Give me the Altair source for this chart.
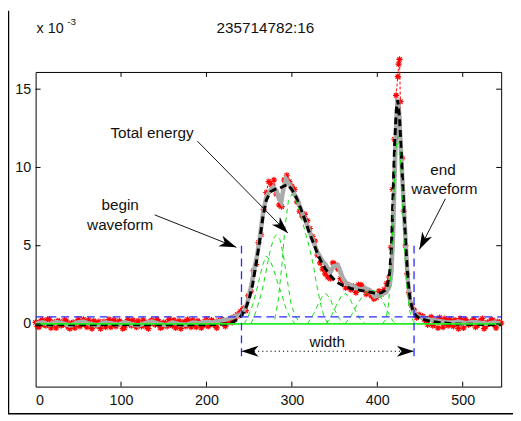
import math
import altair as alt
import pandas as pd

# ---------------- data (units of 1e-3) ----------------
base_x = list(range(0, 240, 4))
base_red = [0.10, -0.20, 0.25, -0.10, 0.30, 0.00, -0.25, 0.15, -0.05, 0.20,
            -0.30, 0.10, 0.05, -0.15, 0.30, -0.20, 0.00, 0.20, -0.10, -0.30,
            0.15, 0.05, -0.20, 0.25, -0.05, 0.10, -0.25, 0.30, -0.10, 0.00,
            0.20, -0.15, 0.10, -0.30, 0.25, -0.05, 0.15, -0.20, 0.05, 0.30,
            -0.10, -0.25, 0.20, 0.00, -0.15, 0.10, 0.25, -0.20, 0.05, -0.10,
            0.30, -0.05, 0.15, -0.25, 0.10, 0.20, 0.05, 0.35, 0.45, 0.60]
base2_x = list(range(2, 240, 4))
base2_red = [-0.15, 0.20, -0.05, 0.30, -0.25, 0.10, 0.20, -0.10, 0.25, -0.20,
             0.05, -0.25, 0.30, 0.10, -0.05, 0.25, -0.30, 0.10, 0.15, 0.00,
             -0.20, 0.30, 0.10, -0.15, 0.20, -0.30, 0.05, 0.15, 0.25, -0.20,
             -0.05, 0.25, -0.20, 0.15, 0.00, 0.30, -0.25, 0.10, -0.15, 0.20,
             0.25, 0.05, -0.30, 0.15, 0.30, -0.20, 0.00, 0.20, -0.25, 0.15,
             -0.15, 0.25, -0.10, 0.20, 0.30, -0.15, 0.20, 0.10, 0.40, 0.55]
wave_x = [240, 243, 246, 249, 252, 255, 258, 261, 264, 267, 270, 273, 276, 279,
          282, 285, 288, 291, 294, 297, 300, 303, 306, 309, 312, 315, 318, 321,
          324, 327, 330, 333, 336, 339, 342, 345, 348, 351, 354, 357, 360, 363,
          366, 369, 372, 375, 378, 381, 384, 387, 390, 393, 396, 399, 402, 405,
          408, 411, 414, 416, 418, 420, 422, 424, 425, 426, 427, 429, 431, 433,
          435, 437, 440, 443, 446, 449]
wave_red = [0.80, 1.00, 0.85, 1.80, 2.10, 3.40, 3.80, 5.20, 5.70, 7.30, 8.40, 9.10,
            8.90, 9.20, 8.30, 7.60, 7.50, 9.20, 9.50, 9.10, 8.80, 8.60, 7.80, 7.20,
            6.90, 7.00, 6.60, 6.10, 5.60, 5.30, 4.40, 3.90, 3.50, 3.20, 3.00, 2.90,
            3.90, 3.80, 3.50, 2.90, 2.70, 2.30, 2.50, 2.20, 2.40, 2.00, 2.50, 2.50,
            2.30, 1.90, 2.10, 1.80, 1.60, 1.70, 2.10, 1.90, 2.20, 2.60, 3.00, 4.90,
            8.60, 11.80, 14.60, 15.80, 16.60, 16.90, 14.20, 10.60, 7.20, 5.00, 3.20,
            2.00, 1.20, 0.90, 0.40, 0.60]
tail_x = list(range(453, 546, 4))
tail_red = [0.50, 0.20, 0.35, -0.10, 0.25, 0.40, -0.20, 0.10, 0.30, -0.15, 0.05, 0.35,
            -0.25, 0.15, 0.00, 0.30, -0.10, 0.20, -0.30, 0.10, 0.25, -0.05, 0.15, 0.05]
tail2_x = list(range(455, 546, 4))
tail2_red = [0.30, -0.05, 0.45, 0.15, -0.25, 0.20, 0.35, -0.10, 0.05, 0.25, -0.30, 0.15,
             0.30, -0.05, 0.20, -0.20, 0.10, 0.35, -0.15, 0.00, 0.25, -0.25, 0.10]

gray_base_x = list(range(0, 240, 8))
gray_base_y = [0.00, 0.10, -0.05, 0.12, 0.05, -0.10, 0.08, 0.15, 0.00, -0.08,
               0.10, 0.05, -0.05, 0.12, 0.00, -0.10, 0.05, 0.15, 0.02, -0.08,
               0.10, 0.00, -0.05, 0.10, 0.05, 0.15, 0.10, 0.20, 0.30, 0.45]
gray_wave_x = [240, 244, 247, 250, 253, 256, 259, 262.5, 266, 270, 274, 278, 282, 285,
               287.5, 290, 293, 296, 301, 307, 312, 318, 324, 330, 335, 339.5, 345, 349,
               354, 360, 364.5, 370, 378, 382, 385.7, 391.5, 397, 401, 407, 410.7, 414.5,
               416.5, 418.4, 420.3, 422.3, 424, 426, 428, 430, 432, 434, 435.7, 438.4,
               441.5, 445, 449, 456, 464, 472, 480]
gray_wave_y = [0.6, 0.9, 1.2, 1.8, 2.6, 3.5, 4.3, 5.5, 7.0, 8.1, 8.5, 8.75, 8.5, 8.0,
               7.8, 8.6, 9.25, 9.0, 8.5, 7.9, 7.1, 6.3, 5.4, 4.6, 4.1, 3.8, 3.3, 3.7,
               3.75, 2.9, 2.55, 2.45, 2.25, 2.2, 2.3, 2.15, 1.75, 1.82, 1.93, 2.04, 2.45,
               3.3, 5.5, 9.5, 13.0, 14.4, 13.0, 10.7, 8.6, 6.5, 4.45, 2.8, 1.5,
               0.9, 0.6, 0.46, 0.35, 0.25, 0.2, 0.12]
gray_tail_x = list(range(488, 546, 8))
gray_tail_y = [0.10, 0.15, 0.05, 0.12, 0.08, 0.00, 0.10, 0.05]

fit_x = [0, 100, 200, 225, 232, 238, 242, 246, 250, 254, 258, 262, 266, 270, 275, 280,
         285, 290, 295, 300, 305, 310, 315, 320, 325, 330, 335, 340, 345, 350, 355, 360,
         365, 370, 375, 380, 385, 390, 395, 400, 405, 409, 412, 414.5, 416.5, 418.4,
         420.3, 422.3, 424, 426, 428, 430, 432, 434, 436, 438.5, 441.5, 445, 450, 460,
         475, 490, 545]
fit_y = [-0.05, -0.05, -0.05, 0.0, 0.15, 0.35, 0.6, 1.0, 1.6, 2.5, 3.8, 5.2, 6.8, 7.9,
         8.45, 8.6, 8.65, 8.8, 8.9, 8.6, 8.1, 7.4, 6.7, 5.9, 5.2, 4.5, 3.9, 3.45, 3.1,
         2.8, 2.6, 2.45, 2.35, 2.25, 2.2, 2.15, 2.1, 2.05, 2.0, 1.95, 2.0, 2.15, 2.5,
         3.3, 4.8, 8.2, 11.5, 13.7, 14.3, 13.2, 11.0, 8.6, 6.4, 4.4, 2.7, 1.5, 0.9,
         0.55, 0.35, 0.2, 0.08, 0.0, -0.05]

c1_x = [244, 249, 254, 258, 262, 266, 270, 274, 278, 283, 288, 293, 298, 304]
c1_y = [0.0, 0.5, 1.2, 2.0, 2.9, 3.8, 4.35, 4.1, 3.6, 2.7, 1.9, 1.0, 0.4, 0.0]
c2_x = [252, 258, 263, 267, 271, 275, 279, 282, 286, 290, 294, 299, 304, 310]
c2_y = [0.0, 0.8, 1.7, 2.6, 3.7, 4.8, 5.5, 5.7, 5.4, 4.4, 3.0, 1.3, 0.5, 0.0]
c3_x = [280, 284, 288, 292, 296, 300, 304, 308, 314, 320, 325, 329, 334, 338, 343]
c3_y = [0.3, 1.5, 3.6, 6.2, 7.9, 8.3, 8.0, 7.4, 6.2, 5.0, 3.8, 2.5, 1.2, 0.4, 0.0]
c4_x = [318, 325, 331, 336, 340, 345, 350, 356, 362]
c4_y = [0.0, 0.6, 1.3, 1.8, 1.95, 1.6, 0.9, 0.3, 0.0]
c5_x = [340, 347, 353, 358, 363, 368, 374, 380, 386]
c5_y = [0.0, 0.6, 1.3, 1.8, 1.95, 1.6, 0.9, 0.3, 0.0]
c6_x = [362, 369, 376, 383, 390, 396, 402, 408, 413, 418, 422]
c6_y = [0.0, 0.5, 1.2, 1.8, 2.1, 2.15, 1.9, 1.3, 0.7, 0.2, 0.0]
c7_x = [406, 410, 413, 416, 418, 420, 422, 424, 426, 428, 430, 432, 435, 438, 442, 447]
c7_y = [0.0, 0.3, 1.2, 3.3, 6.0, 9.0, 11.2, 12.0, 11.4, 9.6, 7.0, 4.6, 2.0, 0.8, 0.2, 0.0]

noise_level = 0.45
begin_x = 241
end_x = 443
marker_top = 5.0
marker_bottom = -2.3
width_y = -1.74

arrow_x0 = [189.4, 139.4, 479.7]
arrow_y0 = [11.68, 6.97, 8.0]
arrow_x1 = [295.3, 235.0, 449.2]
arrow_y1 = [5.81, 4.9, 4.76]

label_text = ["Total energy", "begin", "waveform", "end", "waveform", "width"]
label_x = [136.3, 99.0, 99.0, 476.9, 478.6, 341.4]
label_y = [12.22, 7.57, 6.31, 9.86, 8.6, -1.15]

x_ticks = [0, 100, 200, 300, 400, 500]
y_ticks = [0, 5, 10, 15]
title_text = "235714782:16"

# ---------------- layout ----------------
W, H = 472, 319
XDOM = [0, 545]
YDOM = [-4, 16.1]
FONT = "Liberation Sans"
sx = W / (XDOM[1] - XDOM[0])
sy = H / (YDOM[1] - YDOM[0])

xscale = alt.Scale(domain=XDOM, nice=False, zero=False)
yscale = alt.Scale(domain=YDOM, nice=False, zero=False)
xaxis = alt.Axis(values=x_ticks, title=None, grid=False, ticks=False, tickSize=0,
                 domain=False, labelFont=FONT, labelFontSize=14.5, labelColor="#111111",
                 labelPadding=7, format="d")
yaxis = alt.Axis(values=y_ticks, title=None, grid=False, ticks=False, tickSize=0,
                 domain=False, labelFont=FONT, labelFontSize=14.5, labelColor="#111111",
                 labelPadding=5, format="d")


def X(f):
    return alt.X(f, type="quantitative", scale=xscale, axis=xaxis)


def Y(f):
    return alt.Y(f, type="quantitative", scale=yscale, axis=yaxis)


raw_df = pd.DataFrame({"x": base_x + base2_x + wave_x + tail_x + tail2_x,
                       "y": base_red + base2_red + wave_red + tail_red + tail2_red})
raw_df = raw_df.sort_values("x").reset_index(drop=True)
raw_df["i"] = range(len(raw_df))
gray_df = pd.DataFrame({"x": gray_base_x + gray_wave_x + gray_tail_x,
                        "y": gray_base_y + gray_wave_y + gray_tail_y})
fit_df = pd.DataFrame({"x": fit_x, "y": fit_y})

comp_rows = []
for name, cx, cy in [("c1", c1_x, c1_y), ("c2", c2_x, c2_y), ("c3", c3_x, c3_y),
                     ("c4", c4_x, c4_y), ("c5", c5_x, c5_y), ("c6", c6_x, c6_y),
                     ("c7", c7_x, c7_y)]:
    for i, (a, b) in enumerate(zip(cx, cy)):
        comp_rows.append({"c": name, "i": i, "x": a, "y": b})
comp_df = pd.DataFrame(comp_rows)

STAR = "M-1,0L1,0M0,-1L0,1M-0.7,-0.7L0.7,0.7M-0.7,0.7L0.7,-0.7"
HEAD = "M0,0L-2,-0.65L-1.45,0L-2,0.65Z"

red_line = alt.Chart(raw_df).mark_line(color="red", strokeWidth=1, strokeDash=[3, 2]).encode(
    x=X("x"), y=Y("y"), order="i:Q")
red_pts = alt.Chart(raw_df).mark_point(shape=STAR, filled=False, size=40, strokeWidth=1.2,
                                        color="red", opacity=1).encode(x=X("x"), y=Y("y"))
gray_line = alt.Chart(gray_df).mark_line(color="#aaaaaa", strokeWidth=4.5).encode(
    x=X("x"), y=Y("y"))
fit_line = alt.Chart(fit_df).mark_line(color="black", strokeWidth=3, strokeDash=[7, 4]).encode(
    x=X("x"), y=Y("y"))
comp_lines = alt.Chart(comp_df).mark_line(color="#11dd11", strokeWidth=1,
                                          strokeDash=[5, 4]).encode(
    x=X("x"), y=Y("y"), detail="c:N", order="i:Q")

h_df = pd.DataFrame({"x": [XDOM[0]], "x2": [XDOM[1]], "g": [0.0], "b": [noise_level]})
green_base = alt.Chart(h_df).mark_rule(color="#22ee22", strokeWidth=1.8).encode(
    x=X("x"), x2="x2:Q", y=Y("g"))
blue_h = alt.Chart(h_df).mark_rule(color="#2a2aff", strokeWidth=1.3, strokeDash=[8, 5]).encode(
    x=X("x"), x2="x2:Q", y=Y("b"))
v_df = pd.DataFrame({"x": [begin_x, end_x], "y": [marker_top] * 2, "y2": [marker_bottom] * 2})
blue_v = alt.Chart(v_df).mark_rule(color="#2a2aff", strokeWidth=1.3, strokeDash=[8, 5]).encode(
    x=X("x"), y=Y("y"), y2="y2:Q")

# annotation arrows
ang = []
for a0, b0, a1, b1 in zip(arrow_x0, arrow_y0, arrow_x1, arrow_y1):
    dx = (a1 - a0) * sx
    dy = -(b1 - b0) * sy
    ang.append(math.degrees(math.atan2(dy, dx)) % 360)
arr_df = pd.DataFrame({"x": arrow_x0, "y": arrow_y0, "x2": arrow_x1, "y2": arrow_y1})
shafts = alt.Chart(arr_df).mark_rule(color="#111111", strokeWidth=1).encode(
    x=X("x"), y=Y("y"), x2="x2:Q", y2="y2:Q")
head_df = pd.DataFrame({"x": arrow_x1 + [begin_x, end_x],
                        "y": arrow_y1 + [width_y, width_y],
                        "a": ang + [180, 0]})
heads = alt.Chart(head_df).mark_point(shape=HEAD, filled=True, size=300, color="black",
                                       opacity=1, strokeWidth=0).encode(
    x=X("x"), y=Y("y"), angle=alt.Angle("a:Q", scale=None))
wd_df = pd.DataFrame({"x": [begin_x], "x2": [end_x], "y": [width_y]})
width_line = alt.Chart(wd_df).mark_rule(color="black", strokeWidth=1.2, strokeDash=[1.2, 3]).encode(
    x=X("x"), x2="x2:Q", y=Y("y"))

lab_df = pd.DataFrame({"x": label_x, "y": label_y, "t": label_text})
labels = alt.Chart(lab_df).mark_text(font=FONT, fontSize=15.5, color="#111111",
                                     align="center", baseline="middle").encode(
    x=X("x"), y=Y("y"), text="t:N")

# inward ticks on all four sides
xt_df = pd.DataFrame({"x": x_ticks[1:]})
yt_df = pd.DataFrame({"y": y_ticks})
xt_bottom = alt.Chart(xt_df).mark_rule(color="black", strokeWidth=1).encode(
    x=X("x"), y=alt.value(H), y2=alt.value(H - 5))
xt_top = alt.Chart(xt_df).mark_rule(color="black", strokeWidth=1).encode(
    x=X("x"), y=alt.value(0), y2=alt.value(5))
yt_left = alt.Chart(yt_df).mark_rule(color="black", strokeWidth=1).encode(
    y=Y("y"), x=alt.value(0), x2=alt.value(5))
yt_right = alt.Chart(yt_df).mark_rule(color="black", strokeWidth=1).encode(
    y=Y("y"), x=alt.value(W), x2=alt.value(W - 5))

one = pd.DataFrame({"k": [0]})
title = alt.Chart(one).mark_text(text=title_text, font=FONT, fontSize=15.5, color="#111111",
                                 align="center", baseline="alphabetic").encode(
    x=alt.value(233), y=alt.value(-40))
mult = alt.Chart(one).mark_text(text="x 10", font=FONT, fontSize=14.5, color="#111111",
                                align="left", baseline="alphabetic").encode(
    x=alt.value(1), y=alt.value(-40))
expo = alt.Chart(one).mark_text(text="-3", font=FONT, fontSize=10, color="#111111",
                                align="left", baseline="alphabetic").encode(
    x=alt.value(32), y=alt.value(-48))
frame_left = alt.Chart(one).mark_rule(color="black", strokeWidth=1.5).encode(
    x=alt.value(-27.5), y=alt.value(-62), y2=alt.value(346.5))
frame_bottom = alt.Chart(one).mark_rule(color="black", strokeWidth=1.5).encode(
    y=alt.value(346.5), x=alt.value(-28), x2=alt.value(W + 12))

chart = alt.layer(
    red_line, red_pts, gray_line, fit_line, comp_lines, green_base, blue_h, blue_v,
    shafts, heads, width_line, labels, xt_bottom, xt_top, yt_left, yt_right,
    title, mult, expo, frame_left, frame_bottom
).properties(
    width=W, height=H,
    padding={"left": 28, "top": 62, "right": 12, "bottom": 30},
    autosize=alt.AutoSizeParams(type="none"),
    background="white",
).configure_view(stroke="black", strokeWidth=1)

chart.save("out.html", embed_options={"renderer": "svg", "actions": False})
